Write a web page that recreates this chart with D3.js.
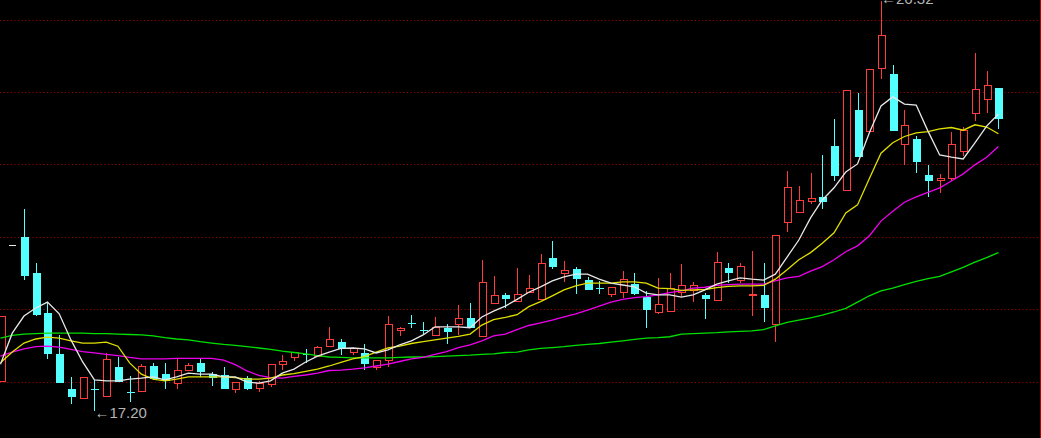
<!DOCTYPE html>
<html><head><meta charset="utf-8">
<script src="https://cdn.jsdelivr.net/npm/d3@7"></script>
<style>html,body{margin:0;padding:0;background:#000;overflow:hidden}svg{display:block}</style>
</head><body><svg id="c" width="1041" height="438"></svg>
<script>
const openP  = [17.87,20.89,21.06,20.26,19.37,18.46,17.70,17.48,17.70,17.54,18.17,17.63,17.65,18.21,18.02,17.82,18.10,18.26,18.02,18.00,17.69,17.93,17.71,17.80,18.24,18.41,18.47,18.43,18.65,18.73,18.52,18.48,18.17,18.33,19.00,19.15,18.99,18.88,19.05,19.13,19.27,18.87,19.59,19.78,19.65,19.85,19.70,20.59,20.26,20.35,20.11,19.93,19.80,19.85,20.02,19.74,19.41,19.43,19.85,19.90,19.78,19.67,20.37,20.11,19.77,19.78,19.13,21.41,21.63,21.87,21.95,23.09,22.10,23.89,23.43,24.83,24.69,23.13,23.25,22.44,22.33,22.38,22.98,23.83,24.13,24.37];
const highP  = [19.30,20.89,21.68,20.50,19.63,18.90,17.95,17.95,17.89,18.50,18.41,17.98,18.24,18.26,18.26,18.36,18.27,18.35,18.07,18.18,17.84,17.98,17.87,18.25,18.44,18.52,18.57,18.64,19.06,18.79,18.63,18.70,18.33,19.31,19.07,19.33,19.18,19.28,19.13,19.56,19.59,20.56,20.20,19.82,20.37,20.22,20.70,20.98,20.53,20.39,20.17,20.09,19.95,20.31,20.26,19.87,20.15,20.26,20.46,20.07,19.82,20.73,20.48,20.50,20.76,20.50,21.11,22.53,22.20,22.50,22.89,23.68,24.33,24.27,24.80,26.32,24.89,23.89,23.32,22.67,22.47,23.39,23.52,25.15,24.76,24.37];
const lowP   = [17.87,20.89,20.11,19.31,18.35,17.82,17.36,17.46,17.20,17.52,17.85,17.39,17.63,17.89,17.70,17.70,18.08,17.95,17.76,17.70,17.59,17.67,17.63,17.74,18.10,18.32,18.27,18.41,18.65,18.44,18.44,18.10,18.10,18.18,18.87,19.04,18.89,18.88,18.68,18.89,19.04,18.87,19.59,19.48,19.65,19.83,19.69,20.35,20.07,19.80,19.89,19.80,19.73,19.72,19.78,19.04,19.35,19.43,19.74,19.63,19.24,19.67,20.05,20.04,19.32,19.17,18.74,21.18,21.63,21.79,21.68,22.30,22.10,22.85,23.43,24.57,23.43,22.67,22.48,21.96,22.05,22.30,22.87,23.65,23.82,23.46];
const closeP = [19.30,20.89,20.20,19.33,18.46,17.82,17.52,17.95,17.68,18.36,17.85,17.60,18.21,17.91,17.87,18.11,18.22,18.06,17.93,17.70,17.84,17.70,17.83,18.25,18.31,18.52,18.45,18.62,18.81,18.58,18.59,18.24,18.33,19.13,19.04,19.13,18.97,19.07,18.96,19.27,19.05,20.06,19.78,19.68,19.80,19.93,20.50,20.39,20.33,20.13,19.90,19.92,19.95,20.13,19.80,19.44,19.58,19.93,20.01,20.00,19.68,20.52,20.26,20.42,19.79,19.50,21.11,22.17,21.89,21.94,21.85,22.42,24.33,22.85,24.80,25.56,23.43,23.55,22.73,22.32,22.38,23.13,23.44,24.36,24.44,23.68];

const ma5  = [18.24,18.93,19.31,19.49,19.62,19.36,18.78,18.29,17.89,17.87,17.87,17.91,17.93,17.96,17.89,17.96,18.04,18.02,18.02,17.96,17.96,17.84,17.82,17.87,18.04,18.13,18.29,18.42,18.51,18.59,18.60,18.58,18.49,18.56,18.67,18.76,18.89,19.07,19.07,19.07,19.05,19.29,19.42,19.53,19.68,19.84,19.96,20.09,20.18,20.24,20.24,20.13,20.04,20.00,19.96,19.82,19.78,19.78,19.73,19.78,19.89,20.02,20.09,20.16,20.13,20.11,20.24,20.62,21.00,21.49,21.89,22.16,22.51,22.69,23.38,23.98,24.18,24.02,24.00,23.42,22.89,22.84,22.80,23.16,23.53,23.80];
const ma10 = [18.27,18.51,18.71,18.80,18.84,18.82,18.76,18.71,18.71,18.73,18.64,18.27,18.02,17.91,17.87,17.91,17.96,17.96,17.96,17.96,17.94,17.91,17.91,17.93,18.00,18.03,18.08,18.13,18.20,18.28,18.36,18.41,18.51,18.60,18.64,18.70,18.74,18.78,18.82,18.86,18.91,19.11,19.23,19.28,19.34,19.52,19.63,19.76,19.89,19.98,20.04,20.04,20.04,20.07,20.07,20.04,19.93,19.92,19.88,19.89,19.90,19.94,19.97,19.98,19.98,19.99,20.13,20.34,20.56,20.72,20.93,21.16,21.60,21.78,22.36,22.93,23.16,23.30,23.38,23.41,23.47,23.50,23.44,23.56,23.51,23.36];
const ma20 = [18.42,18.51,18.58,18.63,18.64,18.62,18.57,18.52,18.49,18.46,18.43,18.39,18.36,18.36,18.36,18.37,18.37,18.37,18.37,18.33,18.23,18.09,17.99,17.94,17.93,17.97,18.00,18.04,18.10,18.11,18.13,18.16,18.20,18.24,18.30,18.36,18.39,18.46,18.52,18.61,18.67,18.76,18.87,18.91,19.01,19.10,19.16,19.22,19.29,19.36,19.44,19.53,19.62,19.68,19.72,19.74,19.78,19.83,19.87,19.93,19.95,19.99,20.01,20.02,20.02,20.02,20.09,20.16,20.19,20.31,20.41,20.56,20.74,20.87,21.09,21.42,21.64,21.84,21.96,22.06,22.16,22.31,22.47,22.67,22.84,23.08];
const ma60 = [18.82,18.88,18.91,18.92,18.93,18.93,18.93,18.93,18.92,18.92,18.91,18.90,18.89,18.87,18.83,18.80,18.78,18.74,18.71,18.68,18.66,18.63,18.60,18.57,18.53,18.50,18.47,18.43,18.40,18.39,18.38,18.38,18.38,18.38,18.39,18.40,18.40,18.41,18.42,18.43,18.44,18.46,18.47,18.50,18.51,18.56,18.59,18.61,18.63,18.66,18.68,18.70,18.73,18.76,18.79,18.82,18.83,18.85,18.91,18.92,18.93,18.94,18.96,18.97,18.98,19.01,19.09,19.17,19.22,19.27,19.33,19.40,19.48,19.62,19.76,19.87,19.93,20.01,20.08,20.14,20.19,20.29,20.39,20.51,20.61,20.72];

const gridLevels = [17.85,19.46,21.07,22.68,24.28,25.89];
const lowLabel = "\u219017.20";
const highLabel = "\u219026.32";
const lowIndex = 8, highIndex = 75;

const W = 1041, H = 438;
const svg = d3.select("#c");
svg.append("rect").attr("width", W).attr("height", H).attr("fill", "#000");

const n = openP.length;
const x = d3.scaleLinear().domain([0, n - 1]).range([0.5, 998.4]);
const y = d3.scaleLinear().domain([17.2, 26.32]).range([411, 0.6]);

const RED = "#ff3c3c", CYAN = "#54ffff";

// grid
svg.append("g").selectAll("line").data(gridLevels).join("line")
  .attr("x1", 0).attr("x2", 1040)
  .attr("y1", d => Math.round(y(d)) + 0.5).attr("y2", d => Math.round(y(d)) + 0.5)
  .attr("stroke", "#9a0000").attr("stroke-width", 1).attr("stroke-dasharray", "1.2,2.4");
svg.append("line").attr("x1", 1040.5).attr("x2", 1040.5).attr("y1", 0).attr("y2", H)
  .attr("stroke", "#b00000").attr("stroke-width", 1);

// candles
const cg = svg.append("g").attr("shape-rendering", "crispEdges");
d3.range(n).forEach(i => {
  const o = openP[i], c = closeP[i], h = highP[i], l = lowP[i];
  const cx = Math.round(x(i));
  const yo = Math.round(y(o)), yc = Math.round(y(c)), yh = Math.round(y(h)), yl = Math.round(y(l));
  const top = Math.min(yo, yc), bot = Math.max(yo, yc);
  if (h === l) {
    cg.append("line").attr("x1", cx - 3).attr("x2", cx + 4).attr("y1", yo + 0.5).attr("y2", yo + 0.5)
      .attr("stroke", "#e8e8e8").attr("stroke-width", 1);
    return;
  }
  if (c >= o) {
    cg.append("line").attr("x1", cx + 0.5).attr("x2", cx + 0.5).attr("y1", yh).attr("y2", top).attr("stroke", RED);
    cg.append("line").attr("x1", cx + 0.5).attr("x2", cx + 0.5).attr("y1", bot).attr("y2", yl).attr("stroke", RED);
    cg.append("rect").attr("x", cx - 2.5).attr("y", top + 0.5).attr("width", 7).attr("height", Math.max(bot - top, 1))
      .attr("fill", "#000").attr("stroke", RED).attr("stroke-width", 1);
  } else {
    cg.append("line").attr("x1", cx + 0.5).attr("x2", cx + 0.5).attr("y1", yh).attr("y2", yl).attr("stroke", CYAN);
    cg.append("rect").attr("x", cx - 3).attr("y", top).attr("width", 8).attr("height", Math.max(bot - top, 1))
      .attr("fill", CYAN);
  }
});

// moving averages
const line = d3.line().x((d, i) => x(i)).y(d => y(d));
[[ma60, "#00e000"], [ma20, "#ee00ee"], [ma10, "#e0e000"], [ma5, "#e8e8e8"]].forEach(([arr, col]) => {
  svg.append("path").attr("d", line(arr)).attr("fill", "none").attr("stroke", col).attr("stroke-width", 1.3);
});

// labels
svg.append("text").attr("x", x(lowIndex)).attr("y", 417.5).text(lowLabel)
  .attr("fill", "#b4b4b4").attr("font-family", "Liberation Sans, Arial, sans-serif").attr("font-size", 15);
svg.append("text").attr("x", x(highIndex)).attr("y", 3.5).text(highLabel)
  .attr("fill", "#b4b4b4").attr("font-family", "Liberation Sans, Arial, sans-serif").attr("font-size", 15);
</script></body></html>
